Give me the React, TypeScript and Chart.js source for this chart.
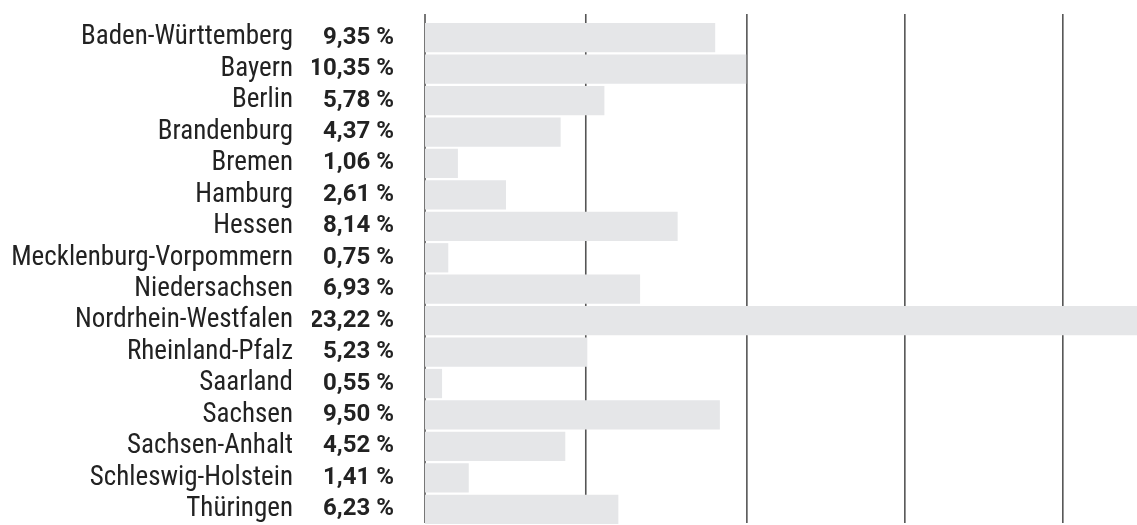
import React, { useEffect, useRef } from "react";
import { Chart, registerables } from "chart.js";

Chart.register(...registerables);

const states: string[] = [
  "Baden-Württemberg",
  "Bayern",
  "Berlin",
  "Brandenburg",
  "Bremen",
  "Hamburg",
  "Hessen",
  "Mecklenburg-Vorpommern",
  "Niedersachsen",
  "Nordrhein-Westfalen",
  "Rheinland-Pfalz",
  "Saarland",
  "Sachsen",
  "Sachsen-Anhalt",
  "Schleswig-Holstein",
  "Thüringen",
];

const shares: number[] = [
  9.35, 10.35, 5.78, 4.37, 1.06, 2.61, 8.14, 0.75, 6.93, 23.22, 5.23, 0.55, 9.5,
  4.52, 1.41, 6.23,
];

const shareLabels: string[] = shares.map(
  (v) => v.toFixed(2).replace(".", ",") + " %"
);

const gridValues: number[] = [0, 5.18, 10.37, 15.46, 20.55];

const NAME_FONT =
  '"Roboto Condensed", "Liberation Sans Narrow", "Arial Narrow", Roboto, sans-serif';
const PCT_FONT = 'Roboto, "Noto Sans", sans-serif';

const gridPlugin = {
  id: "customGrid",
  beforeDatasetsDraw(chart: any) {
    const { ctx, chartArea, scales } = chart;
    const xs = scales.x;
    ctx.save();
    ctx.strokeStyle = "#555555";
    ctx.lineWidth = 1.6;
    xs.ticks.forEach((t: any) => {
      const px = xs.getPixelForValue(t.value);
      ctx.beginPath();
      ctx.moveTo(px, chartArea.top - 8);
      ctx.lineTo(px, chartArea.bottom - 2);
      ctx.stroke();
    });
    ctx.restore();
  },
};

const noPad = (scale: any) => {
  scale.paddingTop = 0;
  scale.paddingBottom = 0;
  scale.paddingLeft = 0;
  scale.paddingRight = 0;
};

export default function App() {
  const ref = useRef<HTMLCanvasElement | null>(null);

  useEffect(() => {
    document.body.style.margin = "0";
    if (!ref.current) return;
    const chart = new Chart(ref.current, {
      type: "bar",
      data: {
        labels: states,
        datasets: [
          {
            data: shares,
            backgroundColor: "#e5e6e8",
            borderWidth: 0,
            barPercentage: 0.932,
            categoryPercentage: 1,
            yAxisID: "y",
          },
        ],
      },
      options: {
        indexAxis: "y",
        animation: false,
        responsive: false,
        maintainAspectRatio: false,
        layout: { padding: { top: 22, bottom: 0, left: 0, right: 0 } },
        plugins: {
          legend: { display: false },
          tooltip: { enabled: false },
        },
        scales: {
          x: {
            type: "linear",
            min: 0,
            max: 22.94,
            position: "bottom",
            afterBuildTicks: (scale: any) => {
              scale.ticks = gridValues.map((v) => ({ value: v }));
            },
            afterFit: (scale: any) => {
              scale.height = 0;
              noPad(scale);
            },
            ticks: { display: false },
            grid: { display: false, drawTicks: false },
            border: { display: false },
          },
          y: {
            type: "category",
            position: "left",
            weight: 1,
            afterFit: (scale: any) => {
              scale.width = 312;
              noPad(scale);
            },
            ticks: {
              padding: 19,
              color: "#222222",
              font: { family: NAME_FONT, size: 27, weight: "normal" },
              autoSkip: false,
            },
            grid: { display: false, drawTicks: false },
            border: { display: false },
          },
          yPct: {
            type: "category",
            labels: shareLabels,
            position: "left",
            weight: 0,
            afterFit: (scale: any) => {
              scale.width = 113;
              noPad(scale);
            },
            ticks: {
              padding: 31,
              color: "#222222",
              font: { family: PCT_FONT, size: 24, weight: "bold" },
              autoSkip: false,
            },
            grid: { display: false, drawTicks: false },
            border: { display: false },
          },
        },
      },
      plugins: [gridPlugin],
    });
    return () => chart.destroy();
  }, []);

  return (
    <div style={{ position: "absolute", left: 0, top: 0, width: 1137, height: 525 }}>
      <canvas ref={ref} width={1137} height={525} style={{ display: "block" }} />
    </div>
  );
}
